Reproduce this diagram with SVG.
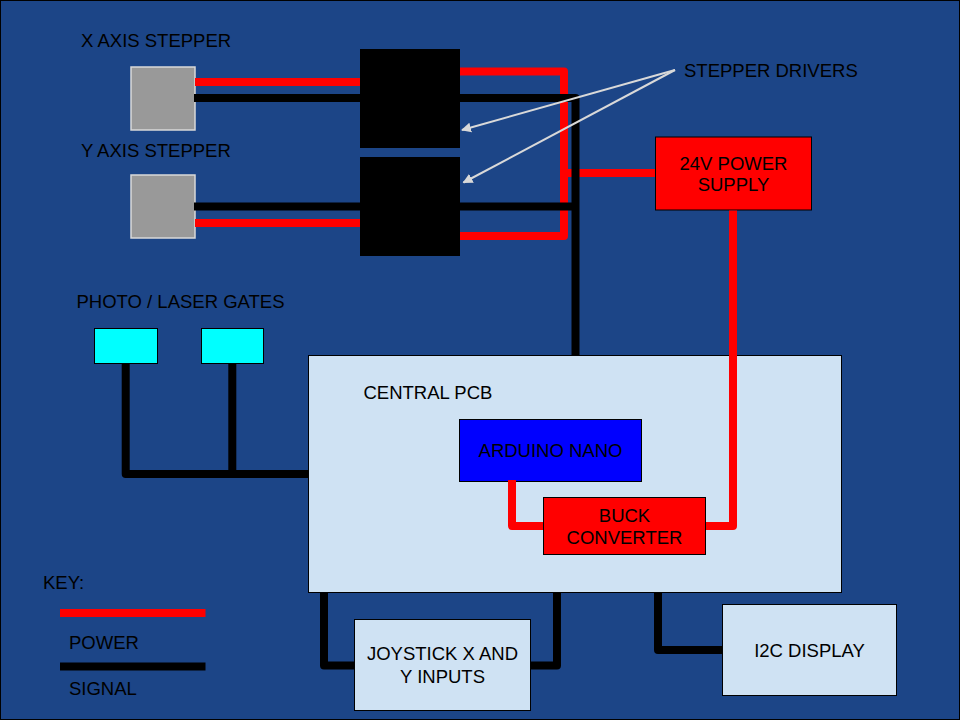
<svg xmlns="http://www.w3.org/2000/svg" width="960" height="720" viewBox="0 0 960 720">
<defs>
<style>
text{font-family:"Liberation Sans",Arial,sans-serif;font-size:18.5px;fill:#000}
.c{text-anchor:middle}
.pw{fill:none;stroke:#ff0000;stroke-width:8;stroke-linejoin:round}
.sg{fill:none;stroke:#000;stroke-width:8;stroke-linejoin:round}
.ar{fill:none;stroke:#d9d9d9;stroke-width:2}
.motor{fill:#999999;stroke:#d9d9d9;stroke-width:1.5}
.drv{fill:#000}
.lb{fill:#cfe2f3;stroke:#000;stroke-width:1}
</style>
<marker id="ah" viewBox="0 0 10 10" refX="9" refY="5" markerWidth="5" markerHeight="5" orient="auto" markerUnits="strokeWidth">
<path d="M0,0 L10,5 L0,10 z" fill="#d9d9d9"/>
</marker>
</defs>
<rect x="0.5" y="0.5" width="959" height="719" fill="#1c4587" stroke="#000" stroke-width="1"/>
<g id="x-stepper">
<rect class="motor" x="131" y="67" width="64" height="63"/>
<text x="81" y="47">X AXIS STEPPER</text>
</g>
<g id="y-stepper">
<rect class="motor" x="131" y="175" width="64" height="63"/>
<text x="81" y="157">Y AXIS STEPPER</text>
</g>
<g id="driver-x">
<rect class="drv" x="360" y="49" width="100" height="99"/>
</g>
<g id="driver-y">
<rect class="drv" x="360" y="157" width="100" height="99"/>
</g>
<g id="stepper-drivers-label">
<text x="684" y="77">STEPPER DRIVERS</text>
</g>
<g id="psu">
<rect x="655.5" y="137" width="156" height="73" fill="#ff0000" stroke="#000" stroke-width="1"/>
<text class="c" x="733.5" y="169.5">24V POWER</text>
<text class="c" x="733.5" y="191">SUPPLY</text>
</g>
<g id="photo-gates">
<text x="76.5" y="308">PHOTO / LASER GATES</text>
<rect x="94.5" y="328.5" width="63" height="35" fill="#00ffff" stroke="#000" stroke-width="1"/>
<rect x="201.5" y="328.5" width="62" height="35" fill="#00ffff" stroke="#000" stroke-width="1"/>
</g>
<g id="central-pcb">
<rect class="lb" x="308.5" y="355.5" width="533" height="237"/>
<text x="363.5" y="399">CENTRAL PCB</text>
</g>
<g id="arduino">
<rect x="459.5" y="419.5" width="182" height="62" fill="#0000ff" stroke="#000" stroke-width="1"/>
<text class="c" x="550.5" y="457">ARDUINO NANO</text>
</g>
<g id="buck">
<rect x="543.5" y="497.5" width="162" height="57" fill="#ff0000" stroke="#000" stroke-width="1"/>
<text class="c" x="624.5" y="521.5">BUCK</text>
<text class="c" x="624.5" y="543.5">CONVERTER</text>
</g>
<g id="joystick">
<rect class="lb" x="354.5" y="619.5" width="176" height="91"/>
<text class="c" x="442.5" y="660">JOYSTICK X AND</text>
<text class="c" x="442.5" y="683">Y INPUTS</text>
</g>
<g id="i2c-display">
<rect class="lb" x="722.5" y="604.5" width="174" height="91"/>
<text class="c" x="809.5" y="657">I2C DISPLAY</text>
</g>
<g id="key">
<text x="43" y="589">KEY:</text>
<line x1="60" y1="613" x2="205.5" y2="613" stroke="#ff0000" stroke-width="8"/>
<text x="69" y="649">POWER</text>
<line x1="60" y1="666.5" x2="205.5" y2="666.5" stroke="#000" stroke-width="8"/>
<text x="69" y="695">SIGNAL</text>
</g>
<g id="connectors">
<path class="pw" d="M195,82 H360"/>
<path class="pw" d="M195,223 H360"/>
<path class="pw" d="M460,71.5 H564 V236 H460"/>
<path class="pw" d="M564,173 H655"/>
<path class="pw" d="M733,210.5 V526 H706"/>
<path class="pw" d="M512,480 V526 H543"/>
<path class="sg" d="M194,98 H360"/>
<path class="sg" d="M194,206.5 H360"/>
<path class="sg" d="M460,98 H575.5 V355"/>
<path class="sg" d="M460,206.5 H575.5"/>
<path class="sg" d="M125.7,364 V474 H308"/>
<path class="sg" d="M232.3,364 V474"/>
<path class="sg" d="M324,593 V665.5 H354"/>
<path class="sg" d="M531,665.5 H557 V593"/>
<path class="sg" d="M658,593 V650 H722"/>
<path class="ar" d="M675,70 L462,130" marker-end="url(#ah)"/>
<path class="ar" d="M675,70 L463.5,182.5" marker-end="url(#ah)"/>
</g>
</svg>
